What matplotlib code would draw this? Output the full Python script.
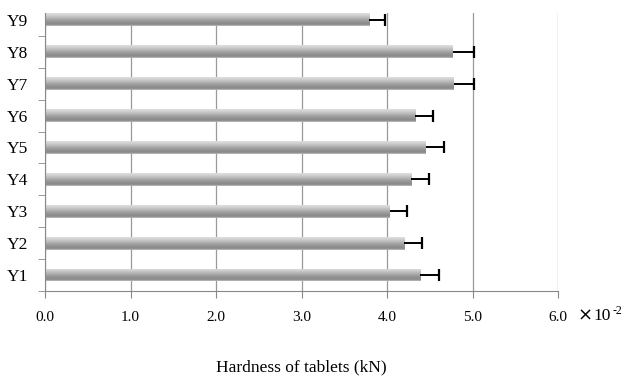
import matplotlib.pyplot as plt
import numpy as np
from matplotlib.colors import LinearSegmentedColormap

samples = ['Y1', 'Y2', 'Y3', 'Y4', 'Y5', 'Y6', 'Y7', 'Y8', 'Y9']
hardness = [4.39, 4.20, 4.03, 4.28, 4.45, 4.33, 4.78, 4.77, 3.79]
sd = [0.22, 0.21, 0.20, 0.21, 0.22, 0.21, 0.24, 0.24, 0.19]

plt.rcParams['font.family'] = ['Liberation Serif', 'DejaVu Serif']

fig = plt.figure(figsize=(6.22, 3.78), dpi=100)
ax = fig.add_axes([0.0724, 0.23, 0.825, 0.736])

y = np.arange(len(samples))
h = 0.40
bars = ax.barh(y, hardness, height=h, color='none', edgecolor='none', zorder=2)

# gradient fill: light rim on top, mid gray, fading lighter to the bottom
cmap = LinearSegmentedColormap.from_list(
    'bar', [(0.0, '#c0c0c0'), (0.12, '#888888'), (0.35, '#959595'),
            (0.85, '#d2d2d2'), (1.0, '#dedede')])
grad = np.linspace(0, 1, 100).reshape(-1, 1)
for b in bars:
    x0, y0 = b.get_x(), b.get_y()
    w, hh = b.get_width(), b.get_height()
    im = ax.imshow(grad, cmap=cmap, vmin=0, vmax=1, aspect='auto',
                   extent=[x0, x0 + w, y0, y0 + hh], origin='lower',
                   interpolation='bilinear', zorder=2)
    im.set_clip_path(b)

ax.errorbar(hardness, y, xerr=[np.zeros(len(sd)), sd], fmt='none',
            ecolor='black', elinewidth=1.4, capsize=0, zorder=3)
ax.plot(np.array(hardness) + np.array(sd), y, marker='|', ls='none',
        ms=9, mew=1.6, color='black', zorder=3)

ax.set_xlim(0, 6)
ax.set_ylim(-0.5, 8.22)

ax.set_xticks(np.arange(0, 7, 1))
ax.set_xticklabels(['%.1f' % v for v in np.arange(0, 7, 1)], fontsize=11)
ax.set_yticks(y)
ax.set_yticklabels(samples, fontsize=12.5)
ax.set_yticks(np.arange(-0.5, 8, 1), minor=True)
ax.tick_params(axis='y', which='major', length=0, pad=12)
ax.tick_params(axis='y', which='minor', length=5, color='#888888', direction='out')
ax.tick_params(axis='x', length=5, color='#888888', pad=9)

for s in ['top', 'right']:
    ax.spines[s].set_visible(False)
ax.spines['left'].set_color('#888888')
ax.spines['bottom'].set_color('#888888')

ax.xaxis.grid(True, color='#999999', linewidth=0.9)
ax.set_axisbelow(True)

ax.set_xlabel('Hardness of tablets (kN)', fontsize=12.5, labelpad=26)
fig.text(0.928, 0.165, '×', fontsize=13, family='DejaVu Sans', va='center', ha='left')
fig.text(0.954, 0.165, '10', fontsize=12.5, va='center', ha='left')
fig.text(0.985, 0.176, '-2', fontsize=8.5, va='center', ha='left')

fig.savefig('out.png', dpi=100)
